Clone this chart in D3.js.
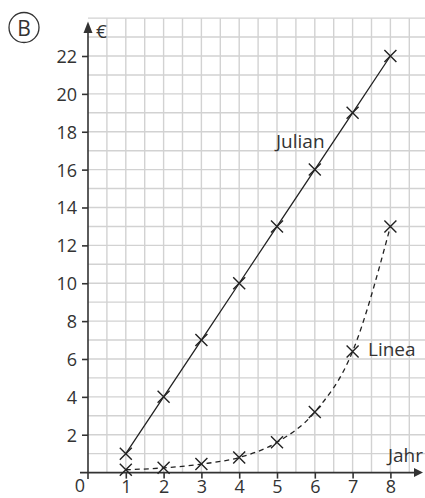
<!DOCTYPE html>
<html><head><meta charset="utf-8">
<script src="https://cdn.jsdelivr.net/npm/d3@7"></script>
<style>body{margin:0;background:#fff}svg{display:block}text{font-family:"Open Sans",sans-serif;fill:#333}</style>
</head><body>
<script>
const years = [1,2,3,4,5,6,7,8];
const julian = [1,4,7,10,13,16,19,22];
const linea = [0.15,0.25,0.45,0.8,1.6,3.2,6.4,13];
const yTicks = [2,4,6,8,10,12,14,16,18,20,22];
const xTicks = [1,2,3,4,5,6,7,8];

const W=425,H=498;
const svg=d3.select("body").append("svg").attr("width",W).attr("height",H);
const x=d3.scaleLinear().domain([0,8]).range([88,390.4]);
const y=d3.scaleLinear().domain([0,22]).range([472.6,56]);
const fs=18, axisCol="#333", gridCol="#d2d2d2";

// grid
const g=svg.append("g");
const xMaxVal=x.invert(W);
for(let v=0.5; v<=xMaxVal; v+=0.5){
  g.append("line").attr("x1",x(v)).attr("x2",x(v)).attr("y1",y(0)).attr("y2",y(24)).attr("stroke",gridCol).attr("stroke-width",1.4);
}
for(let v=1; v<=24; v++){
  g.append("line").attr("x1",x(0)).attr("x2",W).attr("y1",y(v)).attr("y2",y(v)).attr("stroke",gridCol).attr("stroke-width",1.4);
}

// axes
svg.append("line").attr("x1",80).attr("x2",417).attr("y1",y(0)).attr("y2",y(0)).attr("stroke",axisCol).attr("stroke-width",1.6);
svg.append("path").attr("d",`M423,${y(0)} L414,${y(0)-4.5} L414,${y(0)+4.5} Z`).attr("fill",axisCol);
svg.append("line").attr("x1",x(0)).attr("x2",x(0)).attr("y1",479).attr("y2",30).attr("stroke",axisCol).attr("stroke-width",1.6);
svg.append("path").attr("d",`M${x(0)},21.5 L${x(0)-4.5},33 L${x(0)+4.5},33 Z`).attr("fill",axisCol);

const xAxis=d3.axisBottom(x).tickValues(xTicks).tickSize(6).tickFormat(d3.format("d"));
const xa=svg.append("g").attr("transform",`translate(0,${y(0)})`).call(xAxis);
xa.select(".domain").remove();
xa.selectAll("line").attr("stroke",axisCol).attr("stroke-width",1.6);
xa.selectAll("text").attr("font-size",fs).attr("font-family","Open Sans").attr("fill","#333").attr("dy",null).attr("y",20.5);

const yAxis=d3.axisLeft(y).tickValues(yTicks).tickSize(6).tickFormat(d3.format("d"));
const ya=svg.append("g").attr("transform",`translate(${x(0)},0)`).call(yAxis);
ya.select(".domain").remove();
ya.selectAll("line").attr("stroke",axisCol).attr("stroke-width",1.6);
ya.selectAll("text").attr("font-size",fs).attr("font-family","Open Sans").attr("fill","#333").attr("x",-11).attr("dy","0.36em");

svg.append("text").attr("x",80).attr("y",492).attr("text-anchor","middle").attr("font-size",fs).text("0");
svg.append("text").attr("x",96).attr("y",38).attr("font-size",19).text("€");
svg.append("text").attr("x",423).attr("y",462).attr("text-anchor","end").attr("font-size",19).text("Jahr");

// lines
svg.append("path").datum(years.map((d,i)=>[d,julian[i]]))
  .attr("d",d3.line().x(d=>x(d[0])).y(d=>y(d[1])))
  .attr("fill","none").attr("stroke","#222").attr("stroke-width",1.3);
svg.append("path").datum(years.map((d,i)=>[d,linea[i]]))
  .attr("d",d3.line().x(d=>x(d[0])).y(d=>y(d[1])).curve(d3.curveMonotoneX))
  .attr("fill","none").attr("stroke","#222").attr("stroke-width",1.3).attr("stroke-dasharray","5,4");

function crosses(vals){
  const s=6;
  svg.append("g").selectAll("path").data(years.map((d,i)=>[d,vals[i]])).join("path")
    .attr("d",d=>{const cx=x(d[0]),cy=y(d[1]);return `M${cx-s},${cy-s}L${cx+s},${cy+s}M${cx-s},${cy+s}L${cx+s},${cy-s}`;})
    .attr("stroke","#222").attr("stroke-width",1.4).attr("fill","none");
}
crosses(julian); crosses(linea);

svg.append("text").attr("x",276).attr("y",148).attr("font-size",19).text("Julian");
svg.append("text").attr("x",368).attr("y",356).attr("font-size",19).text("Linea");

// B marker
svg.append("circle").attr("cx",24).attr("cy",27.5).attr("r",15).attr("fill","none").attr("stroke","#333").attr("stroke-width",1.3);
svg.append("text").attr("x",24).attr("y",35.5).attr("text-anchor","middle").attr("font-size",21).text("B");
</script>
</body></html>
